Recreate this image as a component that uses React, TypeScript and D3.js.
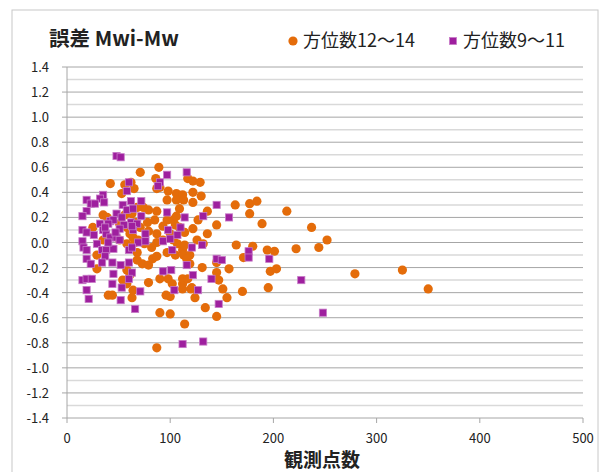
import React from "react";
import * as d3 from "d3";

// 方位数12～14 : [観測点数, 誤差]
const orangePts: [number, number][] = [
  [89, 0.6], [71, 0.56], [42, 0.47], [86, 0.51], [117, 0.51], [122, 0.49], [129, 0.48],
  [56, 0.46], [62, 0.48], [53, 0.39], [65, 0.43], [98, 0.41], [106, 0.39], [112, 0.38],
  [122, 0.4], [97, 0.34], [106, 0.34], [113, 0.34], [122, 0.32], [136, 0.25], [79, 0.26],
  [87, 0.25], [74, 0.28], [68, 0.28], [85, 0.18], [97, 0.18], [103, 0.18], [109, 0.27],
  [106, 0.21], [122, 0.11], [136, 0.07], [145, 0.14], [25, 0.12], [35, 0.22], [39, 0.2],
  [51, 0.15], [58, 0.12], [61, 0.07], [64, 0.04], [71, 0.12], [79, 0.09], [87, 0.07],
  [93, 0.13], [100, 0.07], [109, 0.12], [114, 0.08], [35, 0.02], [40, 0.04], [51, 0.02],
  [58, -0.01], [69, 0.02], [75, -0.01], [87, 0.0], [93, 0.02], [103, 0.02], [107, -0.01],
  [126, 0.02], [132, -0.01], [112, -0.06], [29, -0.1], [29, -0.21], [58, -0.22], [61, -0.26],
  [54, -0.3], [58, -0.33], [73, -0.17], [79, -0.18], [83, -0.13], [87, -0.11], [68, -0.08],
  [97, -0.08], [105, -0.1], [113, -0.1], [119, -0.1], [90, -0.29], [79, -0.32], [102, -0.33],
  [112, -0.33], [121, -0.36], [131, -0.2], [145, -0.16], [145, -0.24], [64, -0.38], [63, -0.44],
  [40, -0.42], [44, -0.42], [96, -0.42], [100, -0.43], [112, -0.37], [120, -0.37], [124, -0.44],
  [90, -0.56], [100, -0.57], [134, -0.52], [145, -0.59], [114, -0.65], [87, -0.84], [130, 0.37],
  [163, 0.3], [177, 0.31], [184, 0.33], [177, 0.23], [213, 0.25], [189, 0.15], [237, 0.12],
  [252, 0.02], [244, -0.04], [222, -0.05], [164, -0.02], [180, -0.03], [194, -0.06], [201, -0.07],
  [171, -0.12], [157, -0.21], [147, -0.3], [197, -0.23], [203, -0.21], [279, -0.25], [151, -0.37],
  [155, -0.44], [170, -0.39], [195, -0.36], [325, -0.22], [350, -0.37], [56, 0.22], [63, 0.23],
  [87, 0.43], [90, 0.44], [127, 0.18], [66, 0.16], [78, 0.16], [105, 0.14], [66, 0.0],
  [82, -0.04], [68, -0.14], [114, -0.02], [116, -0.13], [119, -0.17], [112, -0.29], [117, -0.29],
  [98, -0.29],
];

// 方位数9～11 : [観測点数, 誤差]
const purplePts: [number, number][] = [
  [48, 0.69], [52, 0.68], [97, 0.54], [116, 0.56], [60, 0.48], [90, 0.48], [88, 0.45],
  [58, 0.41], [35, 0.38], [32, 0.35], [19, 0.34], [23, 0.31], [27, 0.31], [36, 0.32],
  [54, 0.3], [62, 0.33], [72, 0.33], [19, 0.25], [15, 0.21], [58, 0.26], [64, 0.27],
  [48, 0.23], [72, 0.21], [97, 0.24], [114, 0.2], [132, 0.21], [145, 0.3], [157, 0.2],
  [42, 0.17], [45, 0.18], [40, 0.15], [32, 0.15], [53, 0.2], [62, 0.16], [68, 0.15],
  [15, 0.1], [19, 0.08], [26, 0.06], [35, 0.1], [38, 0.07], [42, 0.04], [48, 0.04],
  [64, 0.1], [76, 0.07], [98, 0.1], [107, 0.06], [110, 0.12], [121, -0.04], [131, -0.02],
  [145, -0.13], [15, 0.01], [16, -0.04], [19, -0.06], [29, -0.01], [34, -0.06], [38, -0.06],
  [45, -0.05], [60, -0.06], [69, 0.0], [76, 0.01], [93, 0.01], [100, 0.03], [102, -0.06],
  [19, -0.13], [23, -0.17], [37, -0.11], [44, -0.16], [52, -0.18], [60, -0.16], [45, -0.25],
  [63, -0.24], [93, -0.23], [101, -0.22], [116, -0.18], [122, -0.26], [140, -0.29], [15, -0.3],
  [19, -0.29], [24, -0.29], [44, -0.33], [53, -0.36], [71, -0.39], [19, -0.38], [21, -0.45],
  [52, -0.46], [66, -0.53], [104, -0.38], [127, -0.38], [147, -0.49], [112, -0.81], [132, -0.79],
  [176, -0.07], [176, -0.12], [196, -0.13], [150, -0.14], [227, -0.3], [248, -0.56], [55, 0.14],
  [51, 0.11], [37, 0.12], [51, 0.02], [40, 0.0], [63, -0.04], [34, -0.16], [60, -0.29],
  [47, 0.08], [63, 0.13],
];

const xTicks = [0, 100, 200, 300, 400, 500];
const yTicks = [1.4, 1.2, 1.0, 0.8, 0.6, 0.4, 0.2, 0.0, -0.2, -0.4, -0.6, -0.8, -1.0, -1.2, -1.4];
const yMinor = d3.range(-13, 14, 2).map((v) => v / 10);

const titleText = "誤差 Mwi-Mw";
const legendA = "方位数12～14";
const legendB = "方位数9～11";
const xTitle = "観測点数";

const ORANGE = "#E46C0A";
const PURPLE = "#9E1F9E";
const FONT = "'Noto Sans CJK JP', 'Noto Sans', sans-serif";

export default function App() {
  const x = d3.scaleLinear().domain([0, 500]).range([67, 583]);
  const y = d3.scaleLinear().domain([-1.4, 1.4]).range([418, 67]);

  return (
    <svg
      width={612}
      height={472}
      style={{ position: "absolute", left: 0, top: 0, background: "#fff" }}
    >
      <rect x={12} y={10} width={586} height={470} fill="#fff" stroke="#c8c8c8" />

      {/* minor grid */}
      {yMinor.map((v) => (
        <line key={"m" + v} x1={x(0)} x2={x(500)} y1={y(v)} y2={y(v)} stroke="#d9d9d9" strokeWidth={1.5} />
      ))}
      {/* major grid */}
      {yTicks.map((v) => (
        <line key={"g" + v} x1={x(0)} x2={x(500)} y1={y(v)} y2={y(v)} stroke="#a6a6a6" strokeWidth={1} />
      ))}

      {/* y axis */}
      <line x1={x(0)} x2={x(0)} y1={y(1.4)} y2={y(-1.4)} stroke="#a6a6a6" />
      {yTicks.map((v) => (
        <g key={"y" + v}>
          <line x1={x(0) - 5} x2={x(0)} y1={y(v)} y2={y(v)} stroke="#a6a6a6" />
          <text x={49} y={y(v) + 5} textAnchor="end" fontSize={13} fontFamily={FONT} fill="#222">
            {d3.format(".1f")(v).replace("−", "-")}
          </text>
        </g>
      ))}

      {/* x axis */}
      {xTicks.map((v) => (
        <g key={"x" + v}>
          <line x1={x(v)} x2={x(v)} y1={y(-1.4)} y2={y(-1.4) + 5} stroke="#a6a6a6" />
          <text x={x(v)} y={443} textAnchor="middle" fontSize={13} fontFamily={FONT} fill="#222">
            {v}
          </text>
        </g>
      ))}
      <text x={322} y={467} textAnchor="middle" fontSize={19} fontWeight="bold" fontFamily={FONT} fill="#222">
        {xTitle}
      </text>

      {/* series */}
      {orangePts.map((d, i) => (
        <circle key={"o" + i} cx={x(d[0])} cy={y(d[1])} r={4.6} fill={ORANGE} />
      ))}
      {purplePts.map((d, i) => (
        <rect
          key={"p" + i}
          x={x(d[0]) - 3.6}
          y={y(d[1]) - 3.6}
          width={7.2}
          height={7.2}
          fill={PURPLE}
          stroke="#c77bc7"
          strokeWidth={0.8}
        />
      ))}

      {/* title + legend */}
      <text x={49} y={46} fontSize={20.5} fontWeight="bold" fontFamily={FONT} fill="#222">
        {titleText}
      </text>
      <circle cx={293} cy={41} r={4.6} fill={ORANGE} />
      <text x={303} y={47} fontSize={18} fontFamily={FONT} fill="#222">
        {legendA}
      </text>
      <rect x={449.5} y={37.5} width={7} height={7} fill={PURPLE} stroke="#c77bc7" strokeWidth={0.8} />
      <text x={463} y={47} fontSize={18} fontFamily={FONT} fill="#222">
        {legendB}
      </text>
    </svg>
  );
}
